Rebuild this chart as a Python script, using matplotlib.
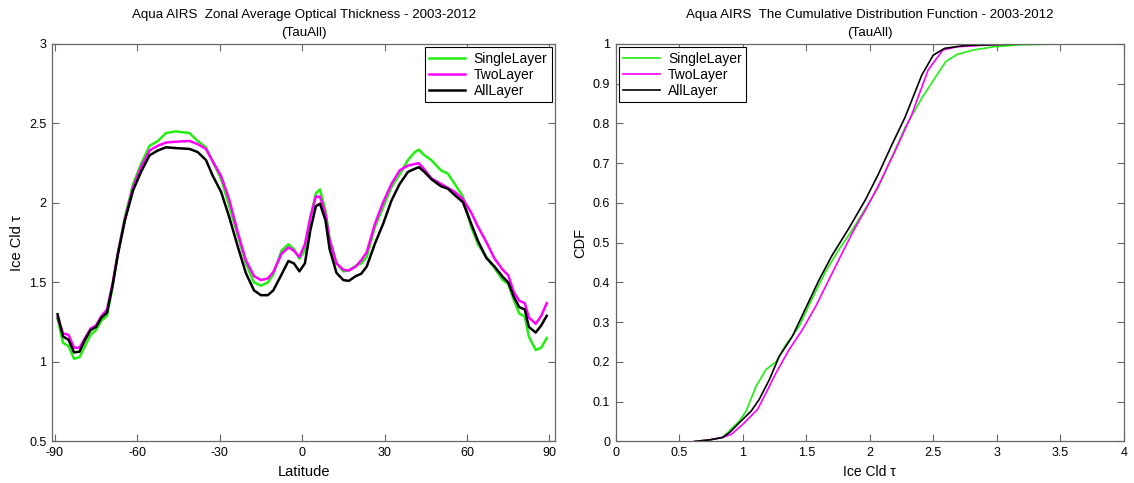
import matplotlib.pyplot as plt
from matplotlib.ticker import FuncFormatter

plt.rcParams['font.family'] = ['Liberation Sans', 'DejaVu Sans']

# zonal average (left panel)
lat = [-89, -87, -85, -83, -81, -79, -77, -75, -73, -71, -69, -67, -64.5, -61.5,
       -58.5, -55.5, -52.5, -49.5, -46, -41, -38, -35, -32.5, -29.5, -26.5, -23.5,
       -20.5, -17.5, -15, -12.5, -10.5, -7.5, -5, -3, -1, 1, 3, 5, 6.5, 8.5, 10,
       12.5, 15, 17, 19.5, 21.5, 23.5, 26.5, 29.5, 32.5, 35.5, 38.5, 41, 42.5,
       44.5, 47, 50.5, 53, 55.5, 58.5, 61.5, 64, 67, 70, 73, 75, 77, 79, 81,
       82.5, 85, 87, 89]
tau_single = [1.27, 1.12, 1.10, 1.02, 1.03, 1.10, 1.17, 1.20, 1.26, 1.29, 1.47, 1.69,
              1.91, 2.12, 2.25, 2.36, 2.39, 2.44, 2.45, 2.44, 2.39, 2.35, 2.26, 2.15,
              1.98, 1.80, 1.62, 1.50, 1.48, 1.50, 1.55, 1.70, 1.74, 1.71, 1.65, 1.70,
              1.91, 2.06, 2.085, 1.95, 1.77, 1.62, 1.57, 1.575, 1.605, 1.62, 1.66,
              1.85, 1.975, 2.10, 2.18, 2.27, 2.32, 2.335, 2.30, 2.27, 2.205, 2.185,
              2.12, 2.04, 1.85, 1.74, 1.66, 1.59, 1.515, 1.49, 1.39, 1.305, 1.285,
              1.16, 1.075, 1.09, 1.15]
tau_two = [1.28, 1.18, 1.17, 1.09, 1.09, 1.15, 1.21, 1.23, 1.29, 1.33, 1.49, 1.69,
           1.90, 2.10, 2.23, 2.33, 2.36, 2.38, 2.385, 2.39, 2.37, 2.34, 2.26, 2.17,
           2.02, 1.82, 1.64, 1.54, 1.515, 1.525, 1.565, 1.68, 1.72, 1.70, 1.66, 1.74,
           1.91, 2.04, 2.04, 1.93, 1.77, 1.62, 1.58, 1.575, 1.60, 1.64, 1.69,
           1.87, 2.005, 2.12, 2.205, 2.235, 2.245, 2.25, 2.21, 2.155, 2.12, 2.095,
           2.07, 2.025, 1.94, 1.85, 1.755, 1.65, 1.58, 1.545, 1.44, 1.385, 1.37,
           1.28, 1.24, 1.29, 1.37]
tau_all = [1.30, 1.16, 1.14, 1.06, 1.065, 1.14, 1.20, 1.22, 1.28, 1.31, 1.48, 1.68,
           1.89, 2.08, 2.20, 2.30, 2.33, 2.35, 2.345, 2.34, 2.32, 2.27, 2.17, 2.07,
           1.91, 1.73, 1.56, 1.45, 1.42, 1.42, 1.45, 1.55, 1.635, 1.62, 1.57, 1.62,
           1.83, 1.98, 1.995, 1.89, 1.71, 1.56, 1.515, 1.51, 1.54, 1.555, 1.60,
           1.745, 1.87, 2.015, 2.12, 2.195, 2.215, 2.225, 2.195, 2.15, 2.105, 2.09,
           2.05, 2.005, 1.87, 1.76, 1.655, 1.60, 1.535, 1.50, 1.41, 1.345, 1.33,
           1.22, 1.185, 1.23, 1.29]

# CDF (right panel)
cdf_single_x = [0.62, 0.74, 0.84, 0.896, 0.974, 1.027, 1.105, 1.183, 1.261, 1.339, 1.443,
                1.547, 1.652, 1.755, 1.86, 1.96, 2.067, 2.172, 2.277, 2.41,
                2.52, 2.60, 2.69, 2.82, 2.98, 3.19, 3.55]
cdf_single_y = [0.0, 0.004, 0.01, 0.027, 0.052, 0.077, 0.139, 0.181, 0.20, 0.243, 0.289,
                0.36, 0.427, 0.482, 0.531, 0.583, 0.639, 0.714, 0.789, 0.864,
                0.918, 0.956, 0.974, 0.985, 0.993, 0.998, 1.0]
cdf_two_x = [0.62, 0.74, 0.84, 0.91, 1.0, 1.117, 1.183, 1.261, 1.365, 1.469, 1.573,
             1.677, 1.781, 1.873, 1.97, 2.067, 2.20, 2.33, 2.46,
             2.576, 2.69, 2.85, 2.98]
cdf_two_y = [0.0, 0.004, 0.01, 0.018, 0.043, 0.081, 0.122, 0.172, 0.231, 0.281, 0.339,
             0.406, 0.473, 0.531, 0.585, 0.643, 0.731, 0.822, 0.935,
             0.985, 0.993, 0.996, 0.998]
cdf_all_x = [0.62, 0.74, 0.84, 0.896, 0.974, 1.066, 1.13, 1.21, 1.287, 1.39, 1.495,
             1.60, 1.703, 1.833, 1.964, 2.067, 2.172, 2.277, 2.41,
             2.50, 2.59, 2.745, 2.98, 3.2]
cdf_all_y = [0.0, 0.004, 0.01, 0.0225, 0.0475, 0.0765, 0.106, 0.156, 0.214, 0.264, 0.335,
             0.406, 0.468, 0.535, 0.607, 0.672, 0.745, 0.815, 0.922,
             0.972, 0.989, 0.996, 0.998, 1.0]

green = '#22ee11'
magenta = '#ff00ff'
labels = ['SingleLayer', 'TwoLayer', 'AllLayer']


def plain(v, pos):
    return f'{v:g}'


def style_axes(ax):
    for s in ax.spines.values():
        s.set_color('#666666')
        s.set_linewidth(0.9)
    ax.tick_params(direction='in', top=True, right=True, length=5, width=0.8,
                   color='#666666', labelsize=9, pad=4)
    ax.xaxis.set_major_formatter(FuncFormatter(plain))
    ax.yaxis.set_major_formatter(FuncFormatter(plain))


fig = plt.figure(figsize=(11.34, 4.83), dpi=100)
ax1 = fig.add_axes([0.0459, 0.086, 0.4435, 0.823])
ax2 = fig.add_axes([0.543, 0.086, 0.448, 0.823])

ax1.plot(lat, tau_single, color=green, lw=1.8, label=labels[0])
ax1.plot(lat, tau_two, color=magenta, lw=1.8, label=labels[1])
ax1.plot(lat, tau_all, color='black', lw=1.8, label=labels[2])
ax1.set_xlim(-91, 92)
ax1.set_ylim(0.5, 3)
ax1.set_xticks(range(-90, 91, 30))
ax1.set_yticks([0.5, 1, 1.5, 2, 2.5, 3])
ax1.set_xlabel('Latitude', fontsize=10.5)
ax1.set_ylabel('Ice Cld τ', fontsize=10.5, labelpad=4)
ax1.set_title('Aqua AIRS  Zonal Average Optical Thickness - 2003-2012\n(TauAll)',
              fontsize=9.6, pad=6, linespacing=1.65)
style_axes(ax1)
leg1 = ax1.legend(loc='upper right', fontsize=10, fancybox=False, framealpha=1,
                  edgecolor='black', borderaxespad=0.25, handlelength=2.6,
                  labelspacing=0.15, borderpad=0.3, handletextpad=0.6)
leg1.get_frame().set_linewidth(0.8)

ax2.plot(cdf_single_x, cdf_single_y, color=green, lw=1.2, label=labels[0])
ax2.plot(cdf_two_x, cdf_two_y, color=magenta, lw=1.2, label=labels[1])
ax2.plot(cdf_all_x, cdf_all_y, color='black', lw=1.2, label=labels[2])
ax2.set_xlim(0, 4)
ax2.set_ylim(0, 1)
ax2.set_xticks([0, 0.5, 1, 1.5, 2, 2.5, 3, 3.5, 4])
ax2.set_yticks([i / 10 for i in range(11)])
ax2.set_xlabel('Ice Cld τ', fontsize=10)
ax2.set_ylabel('CDF', fontsize=10.5, labelpad=4)
ax2.set_title('Aqua AIRS  The Cumulative Distribution Function - 2003-2012\n(TauAll)',
              fontsize=9.6, pad=6, linespacing=1.65)
style_axes(ax2)
leg2 = ax2.legend(loc='upper left', fontsize=10, fancybox=False, framealpha=1,
                  edgecolor='black', borderaxespad=0.25, handlelength=2.6,
                  labelspacing=0.15, borderpad=0.3, handletextpad=0.6)
leg2.get_frame().set_linewidth(0.8)

fig.savefig('out.png', dpi=100)
